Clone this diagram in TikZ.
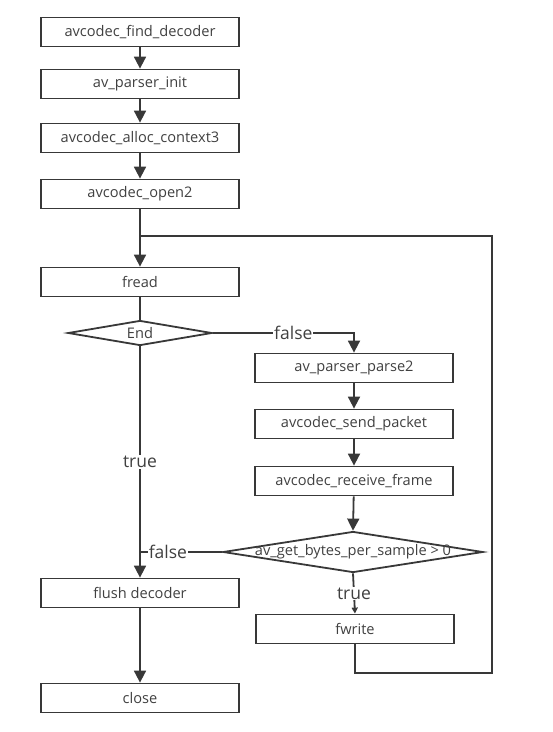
\documentclass[tikz,border=0pt]{standalone}
\usepackage{fontspec}
\setmainfont{Open Sans}
\usetikzlibrary{arrows.meta,shapes.geometric}
\definecolor{lc}{HTML}{383838}
\definecolor{tc}{HTML}{404040}
\begin{document}
\begin{tikzpicture}[x=1pt,y=-1pt,
  line/.style={draw=lc,line width=1.8pt},
  arr/.style={line,-{Triangle[length=12pt,width=12pt]}},
  sarr/.style={line,-{Triangle[length=6pt,width=6pt]}},
  box/.style={draw=lc,line width=1.8pt,minimum width=198pt,minimum height=29pt,inner sep=0pt,
    font=\fontsize{14.6}{16}\selectfont,text=tc},
  dia/.style={draw=lc,line width=1.8pt,shape=diamond,inner sep=0pt,aspect=6,
    font=\fontsize{14.6}{16}\selectfont,text=tc},
  lbl/.style={fill=white,inner sep=1pt,font=\fontsize{17.5}{19}\selectfont,text=tc}
]
\useasboundingbox (0,0) rectangle (553,732);
\node[box] (a1) at (140,32) {avcodec\_find\_decoder};
\node[box] (a2) at (140,84) {av\_parser\_init};
\node[box] (a3) at (140,138) {avcodec\_alloc\_context3};
\node[box] (a4) at (140,194) {avcodec\_open2};
\node[box] (fr) at (140,282) {fread};
\node[dia,minimum width=144pt,minimum height=25pt] (end) at (140,333) {\makebox[0pt]{End}};
\node[box] (p1) at (354,368) {av\_parser\_parse2};
\node[box] (p2) at (354,424) {avcodec\_send\_packet};
\node[box] (p3) at (354,481) {avcodec\_receive\_frame};
\node[dia,minimum width=260pt,minimum height=41pt] (d2) at (353,552) {\makebox[0pt]{av\_get\_bytes\_per\_sample > 0}};
\node[box] (fl) at (140,593) {flush decoder};
\node[box] (fw) at (355,629) {fwrite};
\node[box] (cl) at (140,698) {close};
\coordinate (j) at (140,236);
\coordinate (lb) at (492,673);

\draw[arr] (a1) -- (a2);
\draw[arr] (a2) -- (a3);
\draw[arr] (a3) -- (a4);
\draw[arr] (a4) -- (fr);
\draw[line] (fr) -- (end);
\draw[arr] (end.east) -- node[lbl,pos=0.57]{false} (end.east -| p1.north) -- (p1.north);
\draw[arr] (end.south) -- node[lbl]{true} (fl.north);
\draw[arr] (p1) -- (p2);
\draw[arr] (p2) -- (p3);
\draw[arr] (p3) -- (d2.north);
\draw[line] (d2.west) -- node[lbl,pos=0.66]{false} (d2.west -| fl.north);
\draw[sarr] (d2.south) -- node[lbl]{true} (fw.north);
\draw[arr] (fl) -- (cl);
\draw[line] (fw.south) |- (lb) |- (j);
\end{tikzpicture}
\end{document}
